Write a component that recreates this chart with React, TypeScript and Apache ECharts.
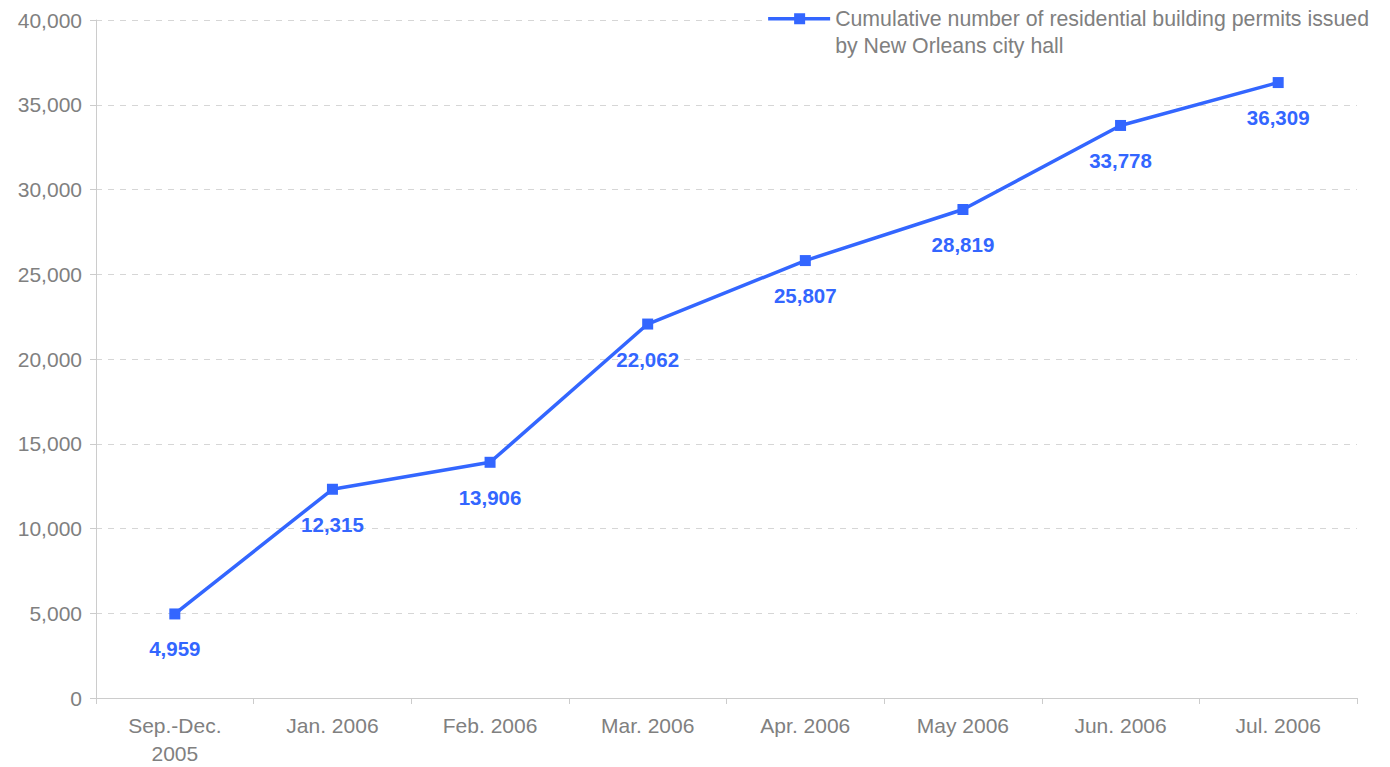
import React, { useEffect, useRef } from "react";
import * as echarts from "echarts";

const categories = ["Sep.-Dec.\n2005", "Jan. 2006", "Feb. 2006", "Mar. 2006", "Apr. 2006", "May 2006", "Jun. 2006", "Jul. 2006"];
const permits = [4959, 12315, 13906, 22062, 25807, 28819, 33778, 36309];
const seriesName = "Cumulative number of residential building permits issued\nby New Orleans city hall";
const blue = "#3366FF";
const grey = "#808080";
const font = "'Liberation Sans', Arial, sans-serif";

const legendIcon =
  "path://M0,0 L0.01,0 L0.01,0.01 Z M62,54 L61.99,54 L61.99,53.99 Z M0,12 H62 V15.6 H0 Z M26,8.3 H37 V19.3 H26 Z";

export default function App() {
  const ref = useRef<HTMLDivElement>(null);
  useEffect(() => {
    const chart = echarts.init(ref.current!, null, { renderer: "svg" });
    chart.setOption({
      animation: false,
      textStyle: { fontFamily: font },
      legend: {
        right: 21,
        top: 5,
        padding: 0,
        itemWidth: 62,
        itemHeight: 54,
        itemGap: 4,
        backgroundColor: "#fff",
        textStyle: { fontSize: 21.3, color: grey, fontFamily: font, lineHeight: 27 },
        itemStyle: { borderWidth: 0, color: blue },
        data: [{ name: seriesName, icon: legendIcon }],
      },
      grid: { left: 96, right: 33, top: 20, bottom: 69, outerBoundsMode: "none", containLabel: false },
      xAxis: {
        type: "category",
        data: categories,
        boundaryGap: true,
        axisLine: { lineStyle: { color: "#cccccc" } },
        axisTick: { show: true, length: 6, lineStyle: { color: "#cccccc" } },
        axisLabel: { fontSize: 21, color: grey, margin: 13, lineHeight: 28, fontFamily: font },
      },
      yAxis: {
        type: "value",
        min: 0,
        max: 40000,
        interval: 5000,
        axisLine: { show: true, lineStyle: { color: "#cccccc" } },
        axisTick: { show: true, length: 6, lineStyle: { color: "#cccccc" } },
        splitLine: { lineStyle: { color: "#d6d6d6", type: [6, 6] } },
        axisLabel: {
          fontSize: 21,
          color: grey,
          margin: 14,
          fontFamily: font,
          formatter: (v: number) => v.toLocaleString("en-US"),
        },
      },
      series: [
        {
          name: seriesName,
          type: "line",
          data: permits,
          symbol: "rect",
          symbolSize: 11,
          lineStyle: { color: blue, width: 3.5 },
          itemStyle: { color: blue },
          label: {
            show: true,
            position: "bottom",
            distance: 19,
            color: blue,
            fontWeight: "bold",
            fontSize: 20.5,
            fontFamily: font,
            formatter: (p: any) => Number(p.value).toLocaleString("en-US"),
          },
        },
      ],
    });
    return () => chart.dispose();
  }, []);
  return <div ref={ref} style={{ width: 1390, height: 767, position: "absolute", left: 0, top: 0, background: "#fff" }} />;
}
